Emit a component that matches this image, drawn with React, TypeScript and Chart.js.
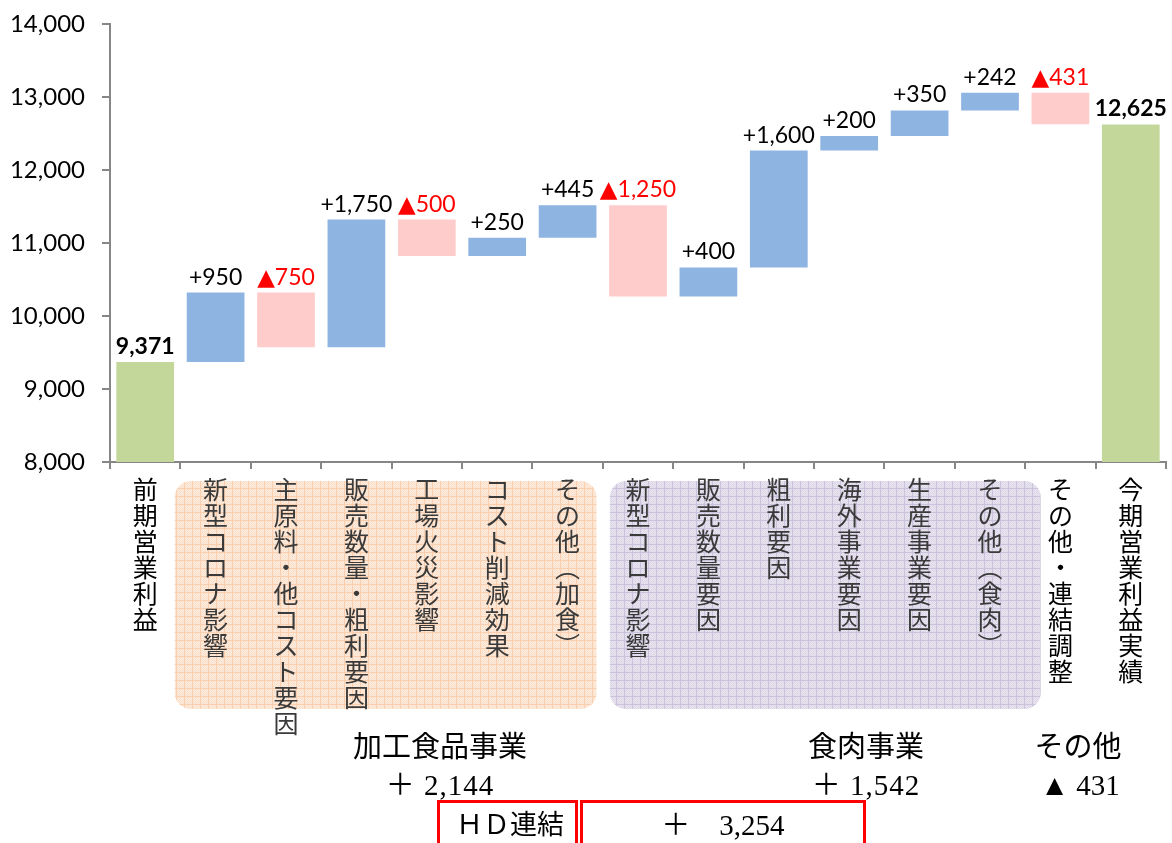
import React, { useEffect, useRef } from "react";
import { Chart, registerables } from "chart.js";

Chart.register(...registerables);

// ---- data ----
const categories = [
  "前期営業利益",
  "新型コロナ影響",
  "主原料・他コスト要因",
  "販売数量・粗利要因",
  "工場火災影響",
  "コスト削減効果",
  "その他（加食）",
  "新型コロナ影響",
  "販売数量要因",
  "粗利要因",
  "海外事業要因",
  "生産事業要因",
  "その他（食肉）",
  "その他・連結調整",
  "今期営業利益実績",
];
const startValue = 9371;
const changes = [950, -750, 1750, -500, 250, 445, -1250, 400, 1600, 200, 350, 242, -431];
const endValue = 12625;
const yMin = 8000;
const yMax = 14000;
const yStep = 1000;

const shadeFrom = [1, 7];
const shadeTo = [6, 12];

const groupNames = ["加工食品事業", "食肉事業", "その他"];
const groupTotals = ["＋ 2,144", "＋ 1,542", "▲ 431"];
const hdLabel = "ＨＤ連結";
const hdTotal = "＋　3,254";

// ---- derived ----
const bars: [number, number][] = [];
const kinds: string[] = [];
const labels: string[] = [];
bars.push([yMin, startValue]);
kinds.push("total");
labels.push(startValue.toLocaleString("en-US"));
let run = startValue;
for (const c of changes) {
  bars.push([run, run + c]);
  kinds.push(c >= 0 ? "up" : "down");
  labels.push(c >= 0 ? "+" + c.toLocaleString("en-US") : "▲" + Math.abs(c).toLocaleString("en-US"));
  run += c;
}
bars.push([yMin, endValue]);
kinds.push("total");
labels.push(endValue.toLocaleString("en-US"));

const COLORS: Record<string, string> = { total: "#C4D79B", up: "#8EB4E2", down: "#FFCCCC" };
const AXIS = "#868686";

const verticalize = (s: string) =>
  Array.from(s.replace(/（/g, "︵").replace(/）/g, "︶"));

function makePattern(ctx: CanvasRenderingContext2D, base: string, line: string, dot: string) {
  const c = document.createElement("canvas");
  c.width = 8;
  c.height = 8;
  const p = c.getContext("2d")!;
  p.fillStyle = base;
  p.fillRect(0, 0, 8, 8);
  p.fillStyle = dot;
  for (let y = 0; y < 8; y++) for (let x = 0; x < 8; x++) if ((x + y) % 2 === 0) p.fillRect(x, y, 1, 1);
  p.fillStyle = line;
  p.fillRect(0, 0, 8, 1);
  p.fillRect(0, 0, 1, 8);
  return ctx.createPattern(c, "repeat")!;
}

const shadePlugin = {
  id: "shade",
  beforeDraw(chart: any) {
    const { ctx, chartArea, scales } = chart;
    const x = scales.x;
    const w = x.width / categories.length;
    const pats = [
      makePattern(ctx, "#FDEBDD", "#F9CFAF", "#FBE0CB"),
      makePattern(ctx, "#E9E5F0", "#CBC2DB", "#DDD7E8"),
    ];
    const extL = [0.58, 0.40];
    const extR = [0.41, 0.72];
    ctx.save();
    for (let g = 0; g < shadeFrom.length; g++) {
      const l = x.getPixelForValue(shadeFrom[g]) - extL[g] * w;
      const r = x.getPixelForValue(shadeTo[g]) + extR[g] * w;
      const t = chartArea.bottom + 19;
      const b = chartArea.bottom + 247;
      ctx.beginPath();
      ctx.roundRect(l, t, r - l, b - t, 16);
      ctx.fillStyle = pats[g];
      ctx.fill();
    }
    ctx.restore();
  },
};

const valueLabelPlugin = {
  id: "valueLabels",
  afterDatasetsDraw(chart: any) {
    const { ctx } = chart;
    const meta = chart.getDatasetMeta(0);
    ctx.save();
    ctx.textAlign = "center";
    ctx.textBaseline = "alphabetic";
    meta.data.forEach((el: any, i: number) => {
      const top = Math.min(el.y, el.base);
      const k = kinds[i];
      ctx.font = (k === "total" ? "bold " : "") + "23px Lato, 'DejaVu Sans'";
      ctx.fillStyle = k === "down" ? "#FF0000" : "#000000";
      ctx.fillText(labels[i], el.x, top - 8);
    });
    ctx.restore();
  },
};

export default function App() {
  const ref = useRef<HTMLCanvasElement>(null);
  useEffect(() => {
    const chart = new Chart(ref.current!, {
      type: "bar",
      data: {
        labels: categories,
        datasets: [
          {
            data: bars as any,
            backgroundColor: kinds.map((k) => COLORS[k]),
            barPercentage: 0.82,
            categoryPercentage: 1,
            borderWidth: 0,
          },
        ],
      },
      options: {
        responsive: false,
        animation: false,
        devicePixelRatio: 1,
        layout: { padding: { top: 24, right: 6, left: 0, bottom: 0 } },
        plugins: { legend: { display: false }, tooltip: { enabled: false }, title: { display: false } },
        scales: {
          x: {
            type: "category",
            grid: {
              display: true,
              offset: true,
              drawOnChartArea: false,
              drawTicks: true,
              tickLength: 7,
              color: AXIS,
              lineWidth: 2,
            },
            border: { color: AXIS, width: 2 },
            ticks: {
              autoSkip: false,
              maxRotation: 0,
              minRotation: 0,
              padding: 7,
              font: { family: "'Noto Sans CJK JP'", size: 25, lineHeight: 1.04 },
              color: (c: any) =>
                c.index >= shadeFrom[0] && c.index <= shadeTo[shadeTo.length - 1] ? "#3a3a3a" : "#000000",
              callback: (_v: any, i: number) => verticalize(categories[i]),
            },
            afterFit: (s: any) => {
              s.height = 843 - 462;
              s.paddingTop = 0;
              s.paddingBottom = 0;
            },
          },
          y: {
            min: yMin,
            max: yMax,
            grid: {
              display: true,
              drawOnChartArea: false,
              drawTicks: true,
              tickLength: 8,
              color: AXIS,
              lineWidth: 2,
            },
            border: { color: AXIS, width: 2 },
            ticks: {
              stepSize: yStep,
              padding: 17,
              color: "#000000",
              font: { family: "Lato", size: 24 },
              callback: (v: any) => Number(v).toLocaleString("en-US"),
            },
            afterFit: (s: any) => {
              s.width = 110;
              s.paddingTop = 0;
              s.paddingBottom = 0;
            },
          },
        },
      },
      plugins: [shadePlugin, valueLabelPlugin],
    });
    return () => chart.destroy();
  }, []);

  const textFont = "'Liberation Serif', 'Noto Sans CJK JP', serif";
  const centered = (cx: number, cy: number, text: string, extra: any = {}) => (
    <div
      style={{
        position: "absolute",
        left: cx - 150,
        top: cy - 18,
        width: 300,
        height: 36,
        lineHeight: "36px",
        textAlign: "center",
        fontFamily: textFont,
        fontSize: 29,
        color: "#000",
        whiteSpace: "pre",
        ...extra,
      }}
    >
      {text}
    </div>
  );

  return (
    <div style={{ position: "fixed", left: 0, top: 0, width: 1172, height: 843, background: "#fff", overflow: "hidden" }}>
      <canvas ref={ref} width={1172} height={843} style={{ position: "absolute", left: 0, top: 0 }} />
      {centered(440, 747, groupNames[0])}
      {centered(866, 747, groupNames[1])}
      {centered(1078, 747, groupNames[2])}
      {centered(440, 785, groupTotals[0], { letterSpacing: 1 })}
      {centered(866, 785, groupTotals[1], { letterSpacing: 1 })}
      {centered(1080, 785, groupTotals[2])}
      <div style={{ position: "absolute", left: 437, top: 800, width: 141, height: 46, border: "3px solid #FF0000", boxSizing: "border-box" }} />
      <div style={{ position: "absolute", left: 580, top: 800, width: 286, height: 46, border: "3px solid #FF0000", boxSizing: "border-box" }} />
      {centered(510, 825, hdLabel, { fontSize: 27 })}
      {centered(723, 825, hdTotal)}
    </div>
  );
}
